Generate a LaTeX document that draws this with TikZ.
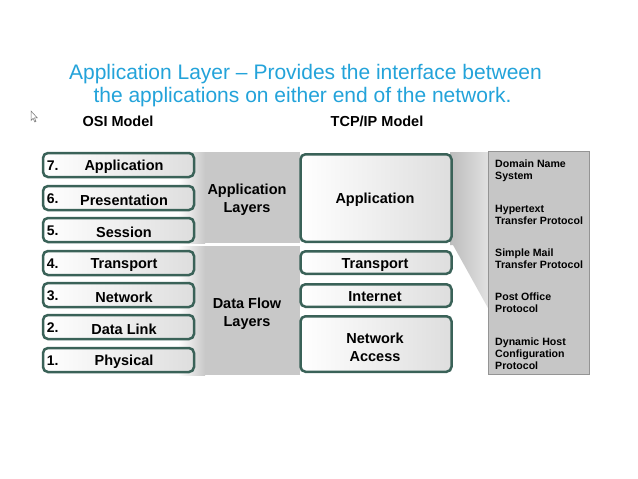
\documentclass[tikz,border=0pt]{standalone}
\usepackage{fontspec}
\setmainfont{Liberation Sans}
\definecolor{boxc}{RGB}{58,98,88}
\definecolor{titlec}{RGB}{35,163,218}
\definecolor{midgray}{RGB}{200,200,200}
\definecolor{panelgray}{RGB}{198,198,198}
\begin{document}
\begin{tikzpicture}[x=1pt,y=-1pt,
  layerbox/.style={draw=boxc, line width=2.5pt, rounded corners=5pt, shading=axis,
    left color=white, right color=black!13, minimum width=151pt, inner sep=0pt},
  bigtxt/.style={font=\bfseries\fontsize{14.5}{18}\selectfont, align=center, inner sep=0pt, yshift=-2pt},
  numtxt/.style={font=\bfseries\fontsize{14}{16}\selectfont, anchor=west, inner sep=0pt, yshift=-1pt},
  prottxt/.style={font=\bfseries\fontsize{10.6}{12}\selectfont, align=left, anchor=west, inner sep=0pt, yshift=-1.5pt},
  titletxt/.style={font=\fontsize{21}{22}\selectfont, text=titlec, inner sep=0pt, yshift=-2pt},
  headtxt/.style={font=\bfseries\fontsize{14.5}{16}\selectfont, inner sep=0pt, yshift=-0.5pt}]
\useasboundingbox (0,0) rectangle (638,479);
\fill[white] (0,0) rectangle (638,479);

% title
\node[titletxt] (title1) at (305.5,72.5) {Application Layer – Provides the interface between};
\node[titletxt] (title2) at (302.5,95) {the applications on either end of the network.};

% cursor
\draw[black!55, line width=0.5pt, fill=white] (31,111) -- (31,120.5) -- (33.2,118.4) -- (34.8,122) -- (36,121.4) -- (34.5,117.9) -- (37.3,117.9) -- cycle;

% headings
\node[headtxt] (osih) at (118,121) {OSI Model};
\node[headtxt] (tcph) at (377,121) {TCP/IP Model};

% gray middle blocks
\shade[left color=white, right color=midgray] (178,152) rectangle (205,243);
\fill[midgray] (205,152) rectangle (300,243);
\shade[left color=white, right color=midgray] (178,246) rectangle (205,375);
\fill[midgray] (205,246) rectangle (300,375);

% wedge toward protocol panel
\shade[left color=black!26, right color=black!12] (450,152) -- (488,152) -- (488,308) -- (453,245) -- (450,245) -- cycle;

% protocol panel
\node[draw=black!42, line width=0.8pt, fill=panelgray, minimum width=101pt, minimum height=223pt, inner sep=0pt] (panel) at (539,263) {};

% OSI layers
\foreach \n/\y in {7/165,6/198,5/230,4/263,3/295,2/327,1/360}{
  \node[layerbox, minimum height=24pt] (o\n) at (118.5,\y) {};
  \node[numtxt] (on\n) at ([xshift=5pt]o\n.west) {\n.};
}
\node[bigtxt] (ot7) at (124,165) {Application};
\node[bigtxt] (ot6) at (124,198) {Presentation};
\node[bigtxt] (ot5) at (124,230) {Session};
\node[bigtxt] (ot4) at (124,263) {Transport};
\node[bigtxt] (ot3) at (124,295) {Network};
\node[bigtxt] (ot2) at (124,327) {Data Link};
\node[bigtxt] (ot1) at (124,360) {Physical};

% group labels
\node[bigtxt] (applayers) at (247,198) {Application\\Layers};
\node[bigtxt] (dataflow) at (247,311.5) {Data Flow\\Layers};

% TCP/IP layers
\node[layerbox, minimum height=87.5pt] (tapp) at (376,198) {};
\node[bigtxt] (tappt) at (375,198) {Application};
\node[layerbox, minimum height=22.5pt] (ttr) at (376,262.5) {};
\node[bigtxt] (ttrt) at (375,263) {Transport};
\node[layerbox, minimum height=22.5pt] (tin) at (376,295.5) {};
\node[bigtxt] (tint) at (375,295) {Internet};
\node[layerbox, minimum height=55.5pt] (tna) at (376,344) {};
\node[bigtxt] (tnat) at (375,345) {Network\\Access};

% protocols
\node[prottxt] (p1) at (495,169) {Domain Name\\System};
\node[prottxt] (p2) at (495,213) {Hypertext\\Transfer Protocol};
\node[prottxt] (p3) at (495,257.5) {Simple Mail\\Transfer Protocol};
\node[prottxt] (p4) at (495,301.5) {Post Office\\Protocol};
\node[prottxt] (p5) at (495,352) {Dynamic Host\\Configuration\\Protocol};
\end{tikzpicture}
\end{document}
